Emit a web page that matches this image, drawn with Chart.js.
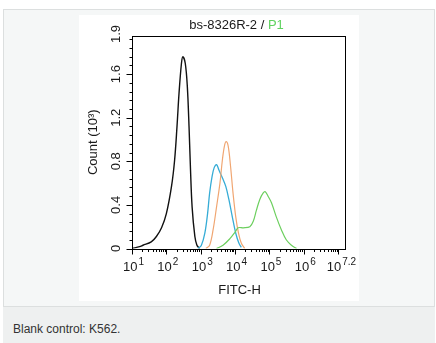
<!DOCTYPE html>
<html>
<head>
<meta charset="utf-8">
<script src="https://cdn.jsdelivr.net/npm/chart.js@4"></script>
<style>
  html, body { margin: 0; padding: 0; background: #ffffff; width: 436px; height: 343px; overflow: hidden; }
  #box { position: absolute; left: 3px; top: 9px; width: 430px; height: 296px; background: #f5f7f7; border: 1px solid #dcdfdf; }
  #cap { position: absolute; left: 3px; top: 307px; width: 432px; height: 36px; background: #eef0f0; }
  #capText { position: absolute; left: 10px; top: 15px; font: 12px "Liberation Sans", Arial, sans-serif; color: #333; }
  #wrap { position: absolute; left: 79px; top: 15px; width: 280px; height: 286px; background: #ffffff; }
</style>
</head>
<body>
<div id="box"></div>
<div id="cap"><div id="capText">Blank control: K562.</div></div>
<div id="wrap"><canvas id="c" width="280" height="286"></canvas></div>
<script>
// ---- data (x = log10 FITC-H, y = count in 10^3) ----
const blackX = [1.01, 1.22, 1.32, 1.56, 1.71, 1.86, 2.0, 2.15, 2.24, 2.31, 2.37, 2.44, 2.48, 2.55, 2.61, 2.66, 2.70, 2.75, 2.83, 2.89, 2.97];
const blackY = [0.0, 0.017, 0.03, 0.06, 0.11, 0.19, 0.32, 0.57, 0.81, 1.12, 1.43, 1.70, 1.76, 1.70, 1.49, 1.12, 0.75, 0.38, 0.11, 0.03, 0.0];
const blueX = [2.92, 3.02, 3.12, 3.20, 3.26, 3.33, 3.39, 3.46, 3.53, 3.63, 3.73, 3.82, 3.92, 4.02, 4.11, 4.18];
const blueY = [0.0, 0.03, 0.14, 0.32, 0.51, 0.66, 0.74, 0.77, 0.72, 0.65, 0.57, 0.45, 0.29, 0.14, 0.05, 0.01];
const orangeX = [3.15, 3.26, 3.36, 3.46, 3.56, 3.63, 3.69, 3.74, 3.80, 3.87, 3.94, 4.02, 4.10, 4.18, 4.28];
const orangeY = [0.0, 0.03, 0.17, 0.38, 0.60, 0.81, 0.94, 0.98, 0.94, 0.75, 0.51, 0.29, 0.14, 0.05, 0.0];
const greenX = [3.46, 3.65, 3.85, 4.0, 4.09, 4.24, 4.43, 4.53, 4.62, 4.72, 4.82, 4.88, 4.96, 5.06, 5.20, 5.35, 5.49, 5.64, 5.79];
const greenY = [0.0, 0.03, 0.09, 0.15, 0.19, 0.19, 0.20, 0.25, 0.35, 0.45, 0.51, 0.52, 0.48, 0.42, 0.29, 0.17, 0.08, 0.03, 0.0];

const xMajorExps = [1, 2, 3, 4, 5, 6, 7];
const xLabelExps = [1, 2, 3, 4, 5, 6, 7.2];
const xLabelSup = ['1', '2', '3', '4', '5', '6', '7.2'];
const yMajorTicks = [0, 0.4, 0.8, 1.2, 1.6];
const yTickLabels = ['0', '0.4', '0.8', '1.2', '1.6'];
const yTopLabel = '1.9';
const yMinorStep = 0.08;
const xMin = 1, xMax = 7.2, yMin = 0, yMax = 1.95;

const titleMain = 'bs-8326R-2 / ';
const titleSub = 'P1';
const yTitle = 'Count (10\u00B3)';
const xTitle = 'FITC-H';

const FONT = '"Liberation Sans", Arial, sans-serif';

function pts(xs, ys) { return xs.map((x, i) => ({ x: x, y: ys[i] })); }

const axesPlugin = {
  id: 'axesPlugin',
  afterDraw(chart) {
    const ctx = chart.ctx;
    const xs = chart.scales.x, ys = chart.scales.y;
    const a = chart.chartArea;
    ctx.save();
    // frame
    ctx.strokeStyle = '#000';
    ctx.lineWidth = 1;
    ctx.strokeRect(Math.round(a.left) + 0.5, Math.round(a.top) + 0.5, Math.round(a.right - a.left), Math.round(a.bottom - a.top));
    const bottom = Math.round(a.bottom) + 0.5;
    const left = Math.round(a.left) + 0.5;
    // x ticks
    ctx.beginPath();
    for (let n = 1; n <= 7; n++) {
      for (let k = 2; k <= 9; k++) {
        const v = n + Math.log10(k);
        if (v > xMax) continue;
        const px = Math.round(xs.getPixelForValue(v)) + 0.5;
        ctx.moveTo(px, bottom); ctx.lineTo(px, bottom + 2.5);
      }
    }
    xMajorExps.forEach(v => {
      const px = Math.round(xs.getPixelForValue(v)) + 0.5;
      ctx.moveTo(px, bottom); ctx.lineTo(px, bottom + 5);
    });
    // y ticks
    for (let v = 0; v <= yMax + 1e-6; v += yMinorStep) {
      const py = Math.round(ys.getPixelForValue(v)) + 0.5;
      ctx.moveTo(left, py); ctx.lineTo(left - 3, py);
    }
    yMajorTicks.forEach(v => {
      const py = Math.round(ys.getPixelForValue(v)) + 0.5;
      ctx.moveTo(left, py); ctx.lineTo(left - 6, py);
    });
    ctx.stroke();

    ctx.fillStyle = '#1a1a1a';
    // x tick labels with superscripts
    xLabelExps.forEach((v, i) => {
      const base = '10', sup = xLabelSup[i];
      ctx.font = '13px ' + FONT;
      const wb = ctx.measureText(base).width;
      ctx.font = '10px ' + FONT;
      const ws = ctx.measureText(sup).width;
      let cx = xs.getPixelForValue(v) + 1.5;
      if (i === xLabelExps.length - 1) cx -= 5;
      const x0 = cx - (wb + ws + 1) / 2;
      ctx.textAlign = 'left';
      ctx.textBaseline = 'alphabetic';
      ctx.font = '13px ' + FONT;
      ctx.fillText(base, x0, bottom + 21.5);
      ctx.font = '10px ' + FONT;
      ctx.fillText(sup, x0 + wb + 1, bottom + 15);
    });
    // y tick labels rotated
    ctx.font = '13px ' + FONT;
    ctx.textAlign = 'center';
    ctx.textBaseline = 'middle';
    const ylab = (txt, py) => {
      ctx.save();
      ctx.translate(a.left - 16, py);
      ctx.rotate(-Math.PI / 2);
      ctx.fillText(txt, 0, 0);
      ctx.restore();
    };
    yMajorTicks.forEach((v, i) => ylab(yTickLabels[i], ys.getPixelForValue(v)));
    ylab(yTopLabel, ys.getPixelForValue(yMax) - 2);
    // y title
    ctx.save();
    ctx.translate(a.left - 39, (a.top + a.bottom) / 2);
    ctx.rotate(-Math.PI / 2);
    ctx.fillText(yTitle, 0, 0);
    ctx.restore();
    // x title
    ctx.fillText(xTitle, (a.left + a.right) / 2 + 1, bottom + 41);
    // chart title (two colours)
    ctx.font = '13px ' + FONT;
    const w1 = ctx.measureText(titleMain).width;
    const w2 = ctx.measureText(titleSub).width;
    const tx = (a.left + a.right) / 2 - 2 - (w1 + w2) / 2;
    ctx.textAlign = 'left';
    ctx.fillStyle = '#1a1a1a';
    ctx.fillText(titleMain, tx, a.top - 11);
    ctx.fillStyle = '#5fd25f';
    ctx.fillText(titleSub, tx + w1, a.top - 11);
    ctx.restore();
  }
};

new Chart(document.getElementById('c'), {
  type: 'scatter',
  data: {
    datasets: [
      { data: pts(greenX, greenY), borderColor: '#6ccf5e', borderWidth: 1.2 },
      { data: pts(orangeX, orangeY), borderColor: '#f0a672', borderWidth: 1.2 },
      { data: pts(blueX, blueY), borderColor: '#36acd6', borderWidth: 1.3 },
      { data: pts(blackX, blackY), borderColor: '#111111', borderWidth: 1.4 }
    ].map(d => Object.assign(d, { showLine: true, pointRadius: 0, tension: 0.35, fill: false }))
  },
  options: {
    responsive: false,
    devicePixelRatio: 1,
    animation: false,
    layout: { padding: { left: 53, right: 14, top: 21, bottom: 52.5 } },
    scales: {
      x: { type: 'linear', min: xMin, max: xMax, display: false },
      y: { type: 'linear', min: yMin, max: yMax, display: false }
    },
    plugins: { legend: { display: false }, tooltip: { enabled: false }, title: { display: false } }
  },
  plugins: [axesPlugin]
});
</script>
</body>
</html>
